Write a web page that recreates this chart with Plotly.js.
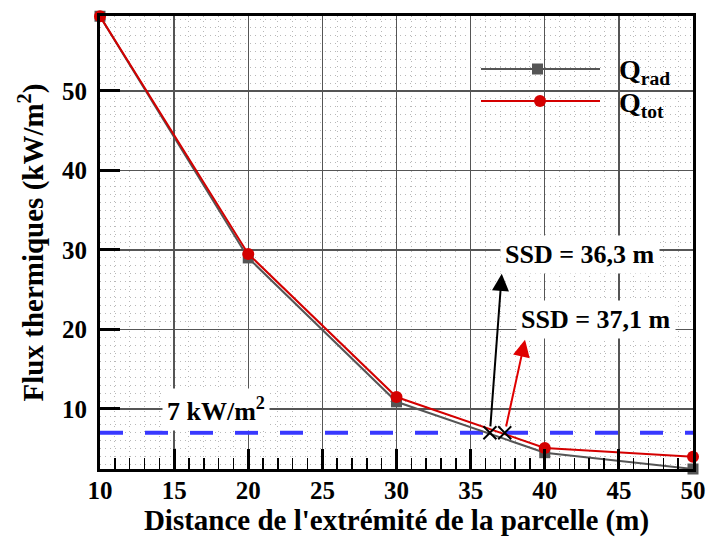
<!DOCTYPE html>
<html><head><meta charset="utf-8">
<script src="https://cdn.plot.ly/plotly-3.0.1.min.js"></script>
<style>html,body{margin:0;padding:0;background:#fff}#chart{width:707px;height:539px}</style>
</head><body><div id="chart"></div>
<script>
// Data
const distance = [10, 20, 30, 40, 50];
const qRad = [59.4, 29.0, 10.9, 4.5, 2.45];
const qTot = [59.4, 29.5, 11.5, 5.1, 4.0];
const seuilX = [10, 50];
const seuilY = [7, 7];
const ssdX = [36.3, 37.3];
const ssdY = [7, 7];
const xTickVals = [10, 15, 20, 25, 30, 35, 40, 45, 50];
const yTickVals = [10, 20, 30, 40, 50];
const xRange = [10, 50];
const yRange = [2.45, 59.43];

// pixel helpers for paper placement (plot area 100..693 x 16..469)
const L = 100, R = 693, T = 16, B = 469;
const px = v => (v - L) / (R - L);
const py = v => (B - v) / (B - T);

const FONT = 'Liberation Serif';

const traces = [
  { x: seuilX, y: seuilY, mode: 'lines', type: 'scatter', showlegend: false,
    line: { color: '#3838ff', width: 4, dash: '23px,22px' }, hoverinfo: 'skip' },
  { x: distance, y: qRad, mode: 'lines+markers', type: 'scatter', name: 'Q<sub>rad</sub>', showlegend: false,
    line: { color: '#555555', width: 2 }, marker: { symbol: 'square', size: 11, color: '#555555' }, cliponaxis: false },
  { x: distance, y: qTot, mode: 'lines+markers', type: 'scatter', name: 'Q<sub>tot</sub>', showlegend: false,
    line: { color: '#d40000', width: 2 }, marker: { symbol: 'circle', size: 12, color: '#d40000' }, cliponaxis: false },
  { x: ssdX, y: ssdY, mode: 'markers', type: 'scatter', showlegend: false,
    marker: { symbol: 'x-thin-open', size: 13, color: '#000', line: { color: '#000', width: 2 } }, cliponaxis: false }
];

const shapes = [
  // legend background
  { type: 'rect', xref: 'paper', yref: 'paper', x0: px(463), x1: px(683), y0: py(130), y1: py(27),
    fillcolor: '#fff', line: { width: 0 }, layer: 'between' },
  { type: 'line', xref: 'paper', yref: 'paper', x0: px(481), x1: px(600), y0: py(69), y1: py(69),
    line: { color: '#555555', width: 2 } },
  { type: 'rect', xref: 'paper', yref: 'paper', x0: px(532), x1: px(543), y0: py(74.5), y1: py(63.5),
    fillcolor: '#555555', line: { width: 0 } },
  { type: 'line', xref: 'paper', yref: 'paper', x0: px(481), x1: px(600), y0: py(101), y1: py(101),
    line: { color: '#d40000', width: 2 } },
  { type: 'circle', xref: 'paper', yref: 'paper', x0: px(534), x1: px(546), y0: py(107), y1: py(95),
    fillcolor: '#d40000', line: { width: 0 } }
];

const annotations = [
  { xref: 'paper', yref: 'paper', x: px(617), y: py(72), xanchor: 'left', yanchor: 'middle', showarrow: false,
    text: 'Q<sub>rad</sub>', font: { family: FONT, size: 28, color: '#000', weight: 'bold' } },
  { xref: 'paper', yref: 'paper', x: px(617), y: py(104), xanchor: 'left', yanchor: 'middle', showarrow: false,
    text: 'Q<sub>tot</sub>', font: { family: FONT, size: 28, color: '#000', weight: 'bold' } },
  { xref: 'x', yref: 'y', x: 42.38, y: 29.4, showarrow: false, text: 'SSD = 36,3 m', bgcolor: '#fff', borderpad: 4,
    font: { family: FONT, size: 26, color: '#000', weight: 'bold' } },
  { xref: 'x', yref: 'y', x: 43.46, y: 21.2, showarrow: false, text: 'SSD = 37,1 m', bgcolor: '#fff', borderpad: 4,
    font: { family: FONT, size: 26, color: '#000', weight: 'bold' } },
  { xref: 'x', yref: 'y', x: 17.82, y: 9.9, showarrow: false, text: '7 kW/m<sup>2</sup>', bgcolor: '#fff', borderpad: 4,
    font: { family: FONT, size: 26, color: '#000', weight: 'bold' } },
  { xref: 'x', yref: 'y', x: 37.1, y: 27.0, axref: 'x', ayref: 'y', ax: ssdX[0], ay: ssdY[0], text: '',
    showarrow: true, arrowhead: 2, arrowsize: 1.7, arrowwidth: 2, arrowcolor: '#000', standoff: 0, startstandoff: 5 },
  { xref: 'x', yref: 'y', x: 38.67, y: 18.7, axref: 'x', ayref: 'y', ax: ssdX[1], ay: ssdY[1], text: '',
    showarrow: true, arrowhead: 2, arrowsize: 1.7, arrowwidth: 2, arrowcolor: '#e00000', standoff: 0, startstandoff: 5 }
];

const dotGrid = { gridcolor: '#b8b8b8', gridwidth: 1, griddash: '1px,4px' };

const layout = {
  width: 707, height: 539,
  margin: { l: L, r: 707 - R, t: T, b: 539 - B },
  paper_bgcolor: '#fff', plot_bgcolor: '#fff',
  font: { family: FONT, size: 24, color: '#000', weight: 'bold' },
  showlegend: false,
  xaxis: {
    range: xRange, tickvals: xTickVals, ticks: 'inside', ticklen: 20, tickwidth: 3, tickcolor: '#000',
    showline: true, linewidth: 3, linecolor: '#000', mirror: true,
    showgrid: true, gridcolor: '#555', gridwidth: 1.3, zeroline: false,
    minor: Object.assign({ dtick: 1, ticks: 'inside', ticklen: 11, tickwidth: 1.5, tickcolor: '#000', showgrid: true }, dotGrid),
    tickfont: { family: FONT, size: 25, weight: 'bold' }, ticklabelstandoff: -3,
    title: { text: "Distance de l'extrémité de la parcelle (m)", standoff: 6, font: { family: FONT, size: 29, weight: 'bold' } }
  },
  yaxis: {
    range: yRange, tickvals: yTickVals, ticks: 'inside', ticklen: 20, tickwidth: 3, tickcolor: '#000',
    showline: true, linewidth: 3, linecolor: '#000', mirror: true,
    showgrid: true, gridcolor: '#555', gridwidth: 1.3, zeroline: false,
    minor: Object.assign({ dtick: 1, ticks: '', showgrid: true }, dotGrid),
    tickfont: { family: FONT, size: 25, weight: 'bold' }, ticklabelstandoff: 5,
    title: { text: 'Flux thermiques (kW/m<sup>2</sup>)', standoff: 10, font: { family: FONT, size: 29, weight: 'bold' } }
  },
  // minor ticks every 2 on the left
  yaxis2: {
    overlaying: 'y', side: 'left', anchor: 'x', range: yRange, tickvals: yTickVals,
    ticks: '', showticklabels: false, showline: false, showgrid: false, zeroline: false,
    minor: { dtick: 2, ticks: 'inside', ticklen: 11, tickwidth: 1.5, tickcolor: '#000', showgrid: false }
  },
  // short mirror ticks top and right
  xaxis2: {
    overlaying: 'x', side: 'top', anchor: 'y', range: xRange, tickvals: xTickVals,
    ticks: 'inside', ticklen: 9, tickwidth: 1.5, tickcolor: '#000', showticklabels: false,
    showline: false, showgrid: false, zeroline: false
  },
  yaxis3: {
    overlaying: 'y', side: 'right', anchor: 'x', range: yRange, tickvals: yTickVals,
    ticks: 'inside', ticklen: 9, tickwidth: 1.5, tickcolor: '#000', showticklabels: false,
    showline: false, showgrid: false, zeroline: false
  },
  shapes: shapes,
  annotations: annotations
};

Plotly.newPlot('chart', traces, layout, { displayModeBar: false, staticPlot: true });
</script>
</body></html>
